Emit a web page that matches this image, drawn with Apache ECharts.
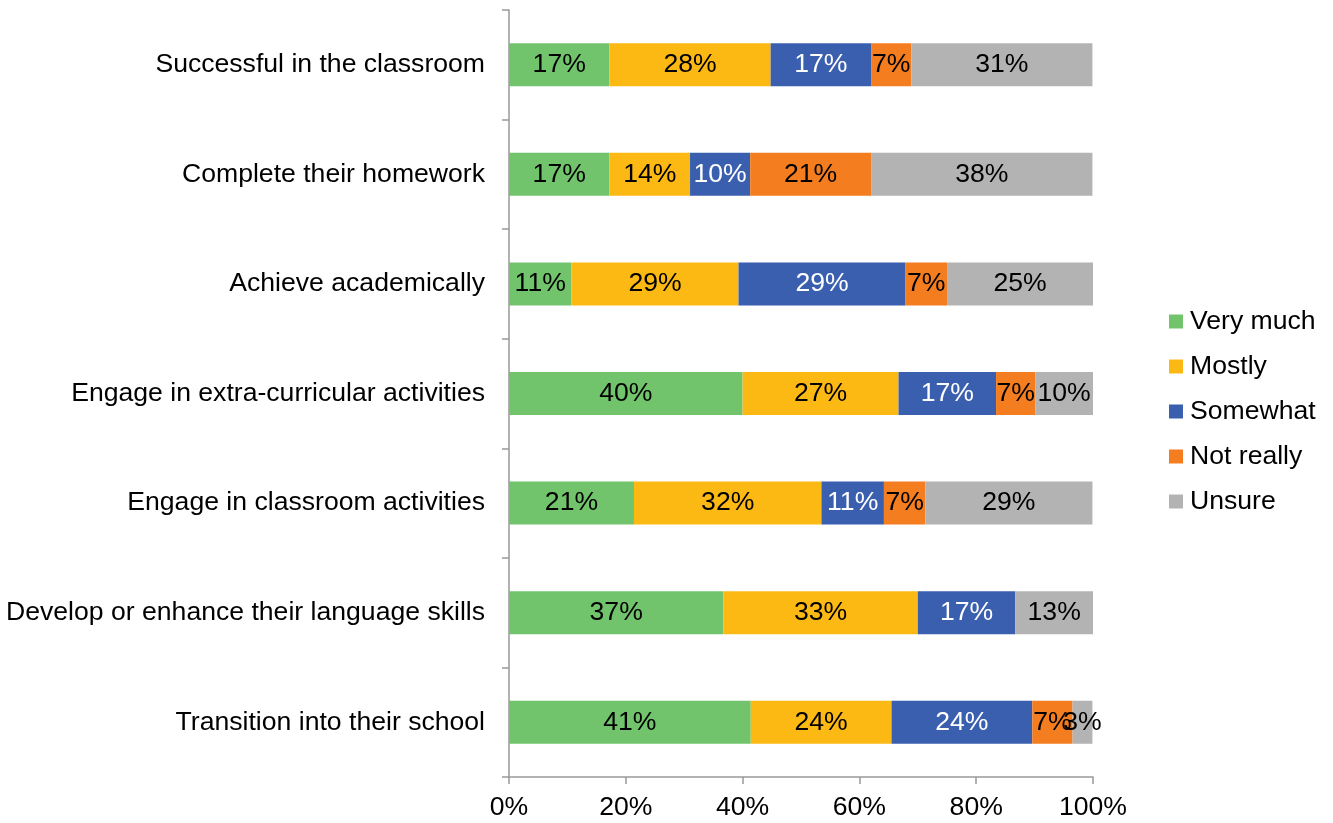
<!DOCTYPE html>
<html>
<head>
<meta charset="utf-8">
<script src="https://cdn.jsdelivr.net/npm/echarts@6/dist/echarts.min.js"></script>
<style>
  html, body { margin: 0; padding: 0; background: #fff; }
  #chart { width: 1333px; height: 823px; }
</style>
</head>
<body>
<div id="chart"></div>
<script>
// categories, top to bottom
var categories = [
  'Successful in the classroom',
  'Complete their homework',
  'Achieve academically',
  'Engage in extra-curricular activities',
  'Engage in classroom activities',
  'Develop or enhance their language skills',
  'Transition into their school'
]
// percentages per answer
var veryMuch = [17.2, 17.2, 10.7, 40.0, 21.4, 36.7, 41.4]
var mostly = [27.6, 13.8, 28.6, 26.7, 32.1, 33.3, 24.1]
var somewhat = [17.2, 10.3, 28.6, 16.7, 10.7, 16.7, 24.1]
var notReally = [6.9, 20.7, 7.1, 6.7, 7.1, 0, 6.9]
var unsure = [31.0, 37.9, 25.0, 10.0, 28.6, 13.3, 3.4]
var xTicks = [0, 20, 40, 60, 80, 100]

var FONT = 'Liberation Sans, Arial, sans-serif'
var FS = 26.6
var chart = echarts.init(document.getElementById('chart'))

function makeSeries (name, data, color, textColor) {
  return {
    name: name,
    type: 'bar',
    stack: 'total',
    barWidth: 43,
    data: data,
    itemStyle: { color: color },
    label: {
      show: true,
      position: 'inside',
      color: textColor,
      fontFamily: FONT,
      fontSize: FS,
      formatter: function (p) {
        return p.value > 0 ? Math.round(p.value) + '%' : ''
      }
    }
  }
}

chart.setOption({
  backgroundColor: '#fff',
  animation: false,
  textStyle: { fontFamily: FONT },
  grid: { left: 509, right: 240, top: 10, bottom: 46 },
  legend: {
    orient: 'vertical',
    left: 1169,
    top: 308,
    padding: 0,
    itemWidth: 14,
    itemHeight: 14,
    itemGap: 18,
    icon: 'rect',
    textStyle: { fontSize: FS, color: '#000', fontFamily: FONT, padding: [0, 0, 0, 2] },
    data: ['Very much', 'Mostly', 'Somewhat', 'Not really', 'Unsure']
  },
  xAxis: {
    type: 'value',
    min: xTicks[0],
    max: xTicks[xTicks.length - 1],
    interval: 20,
    splitLine: { show: false },
    axisLine: { show: true, lineStyle: { color: '#999', width: 1.5 } },
    axisTick: { show: true, length: 7, lineStyle: { color: '#999', width: 1.5 } },
    axisLabel: {
      margin: 17,
      fontSize: FS,
      color: '#000',
      fontFamily: FONT,
      formatter: '{value}%'
    }
  },
  yAxis: {
    type: 'category',
    inverse: true,
    data: categories,
    axisLine: { show: true, lineStyle: { color: '#999', width: 1.5 } },
    axisTick: { show: true, length: 7, lineStyle: { color: '#999', width: 1.5 } },
    axisLabel: { margin: 24, fontSize: FS, color: '#000', fontFamily: FONT }
  },
  series: [
    makeSeries('Very much', veryMuch, '#71C46B', '#000'),
    makeSeries('Mostly', mostly, '#FDB913', '#000'),
    makeSeries('Somewhat', somewhat, '#3B5FAF', '#fff'),
    makeSeries('Not really', notReally, '#F47D20', '#000'),
    makeSeries('Unsure', unsure, '#B3B3B3', '#000')
  ]
})
</script>
</body>
</html>
